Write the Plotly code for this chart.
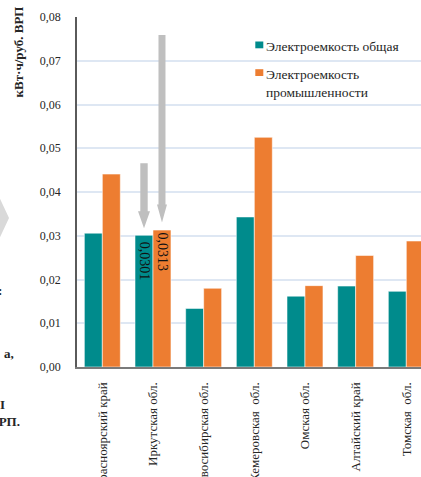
import plotly.graph_objects as go

# Electricity intensity of regional GRP, kWh per rouble
regions = ["Красноярский край", "Иркутская обл.", "Новосибирская обл.",
           "Кемеровская\u00a0 обл.", "Омская обл.", "Алтайский край",
           "Томская\u00a0 обл."]
total_intensity = [0.0306, 0.0301, 0.0134, 0.0343, 0.0162, 0.0185, 0.0173]
industry_intensity = [0.0441, 0.0313, 0.0180, 0.0525, 0.0186, 0.0255, 0.0288]
series_names = ["Электроемкость общая", "Электроемкость<br>промышленности"]
highlighted = "Иркутская обл."
y_ticks = [0.00, 0.01, 0.02, 0.03, 0.04, 0.05, 0.06, 0.07, 0.08]
y_title = "кВт·ч/руб. ВРП"

TEAL = "#008B8C"
ORANGE = "#ED7D31"
ARROW = "#BFBFBF"
TEXT = "#262626"
SERIF = "Liberation Serif, Times New Roman, serif"

W, H = 421, 477
ML, MR, MT, MB = 77, 0, 17, 110
PW, PH = W - ML - MR, H - MT - MB
BARGAP = 0.29


def px(x):
    return (x - ML) / PW


def py(y):
    return (MT + PH - y) / PH


def fmt(v):
    return f"{v:.4f}".replace(".", ",")


fig = go.Figure()
for name, values, color in [(series_names[0], total_intensity, TEAL),
                            (series_names[1], industry_intensity, ORANGE)]:
    fig.add_trace(go.Bar(
        x=regions, y=values, name=name, showlegend=False,
        marker=dict(color=color, line=dict(color="rgba(255,255,255,0.55)", width=1)),
    ))

# grey pointers and value labels for the highlighted pair of bars
idx = regions.index(highlighted)
off = (1 - BARGAP) / 4


def arrow_path(gap, head, top, hh, sh):
    hb = gap + head
    return (f"M {-sh},{top} L {sh},{top} L {sh},{hb} L {hh},{hb} "
            f"L 0,{gap} L {-hh},{hb} L {-sh},{hb} Z")


shapes = [
    dict(type="path", xref="x", yref="y", xsizemode="pixel", ysizemode="pixel",
         xanchor=idx - off, yanchor=total_intensity[idx],
         path=arrow_path(7, 17, 72, 6, 3.7), fillcolor=ARROW, line_width=0,
         layer="above"),
    dict(type="path", xref="x", yref="y", xsizemode="pixel", ysizemode="pixel",
         xanchor=idx + off, yanchor=industry_intensity[idx],
         path=arrow_path(7.6, 18, 195, 5, 3.5), fillcolor=ARROW, line_width=0,
         layer="above"),
    # chevron at the left edge
    dict(type="path", xref="paper", yref="paper", xsizemode="pixel",
         ysizemode="pixel", xanchor=0, yanchor=0,
         path="M -68,149 L -90,196 L -90,102 Z", fillcolor="#D9D9D9",
         line_width=0),
    # legend swatches
    dict(type="rect", xref="paper", yref="paper", x0=px(255.3), x1=px(263.3),
         y0=py(48.3), y1=py(41.5), fillcolor=TEAL, line_width=0),
    dict(type="rect", xref="paper", yref="paper", x0=px(255.3), x1=px(263.3),
         y0=py(76), y1=py(69.2), fillcolor=ORANGE, line_width=0),
]

annotations = [
    dict(text=fmt(total_intensity[idx]), x=idx - off, y=total_intensity[idx],
         xref="x", yref="y", xanchor="center", yanchor="top", yshift=-4,
         textangle=90, showarrow=False,
         font=dict(family=SERIF, size=14, color="#111111")),
    dict(text=fmt(industry_intensity[idx]), x=idx + off, y=industry_intensity[idx],
         xref="x", yref="y", xanchor="center", yanchor="top", yshift=-1,
         textangle=90, showarrow=False,
         font=dict(family=SERIF, size=14, color="#111111")),
    dict(text=f"<b>{y_title}</b>", textangle=-90, xref="paper", yref="paper",
         x=px(18.5), y=py(52), xanchor="center", yanchor="middle",
         showarrow=False, font=dict(family=SERIF, size=13, color=TEXT)),
    dict(text=series_names[0], xref="paper", yref="paper", x=px(264),
         y=py(46.5), xanchor="left", yanchor="middle", showarrow=False,
         align="left", font=dict(family=SERIF, size=13.5, color=TEXT)),
    dict(text=series_names[1], xref="paper", yref="paper", x=px(264),
         y=py(83), xanchor="left", yanchor="middle", showarrow=False,
         align="left", font=dict(family=SERIF, size=13.5, color=TEXT)),
]

# fragments of neighbouring text at the left edge
for frag, xr, yc in [(":", 4, 290), ("а,", 16, 353), ("I", 7, 404), ("ВРП.", 22, 421)]:
    annotations.append(dict(
        text=f"<b>{frag}</b>", xref="paper", yref="paper", x=px(xr), y=py(yc),
        xanchor="right", yanchor="middle", showarrow=False,
        font=dict(family=SERIF, size=13, color=TEXT)))

fig.update_layout(
    width=W, height=H,
    margin=dict(l=ML, r=MR, t=MT, b=MB, pad=0, autoexpand=False),
    paper_bgcolor="white", plot_bgcolor="white",
    barmode="group", bargap=BARGAP, bargroupgap=0,
    separators=", ",
    font=dict(family=SERIF, color=TEXT),
    shapes=shapes, annotations=annotations,
    xaxis=dict(
        range=[-0.5, 6.29], tickangle=-90, showgrid=False, automargin=False,
        showline=True, linecolor="#7A7A7A", linewidth=2, ticks="",
        ticklabelstandoff=8,
        tickfont=dict(family=SERIF, size=13, color=TEXT),
    ),
    yaxis=dict(
        range=[0, 0.08], tickvals=y_ticks, tickformat=".2f", automargin=False,
        showgrid=True, gridcolor="#DEE7F3", gridwidth=1.5, zeroline=False,
        showline=True, linecolor="#5A5A5A", linewidth=1.5, ticks="",
        ticklabelstandoff=12,
        tickfont=dict(family=SERIF, size=12, color=TEXT),
    ),
)

fig.write_html("out.html")
